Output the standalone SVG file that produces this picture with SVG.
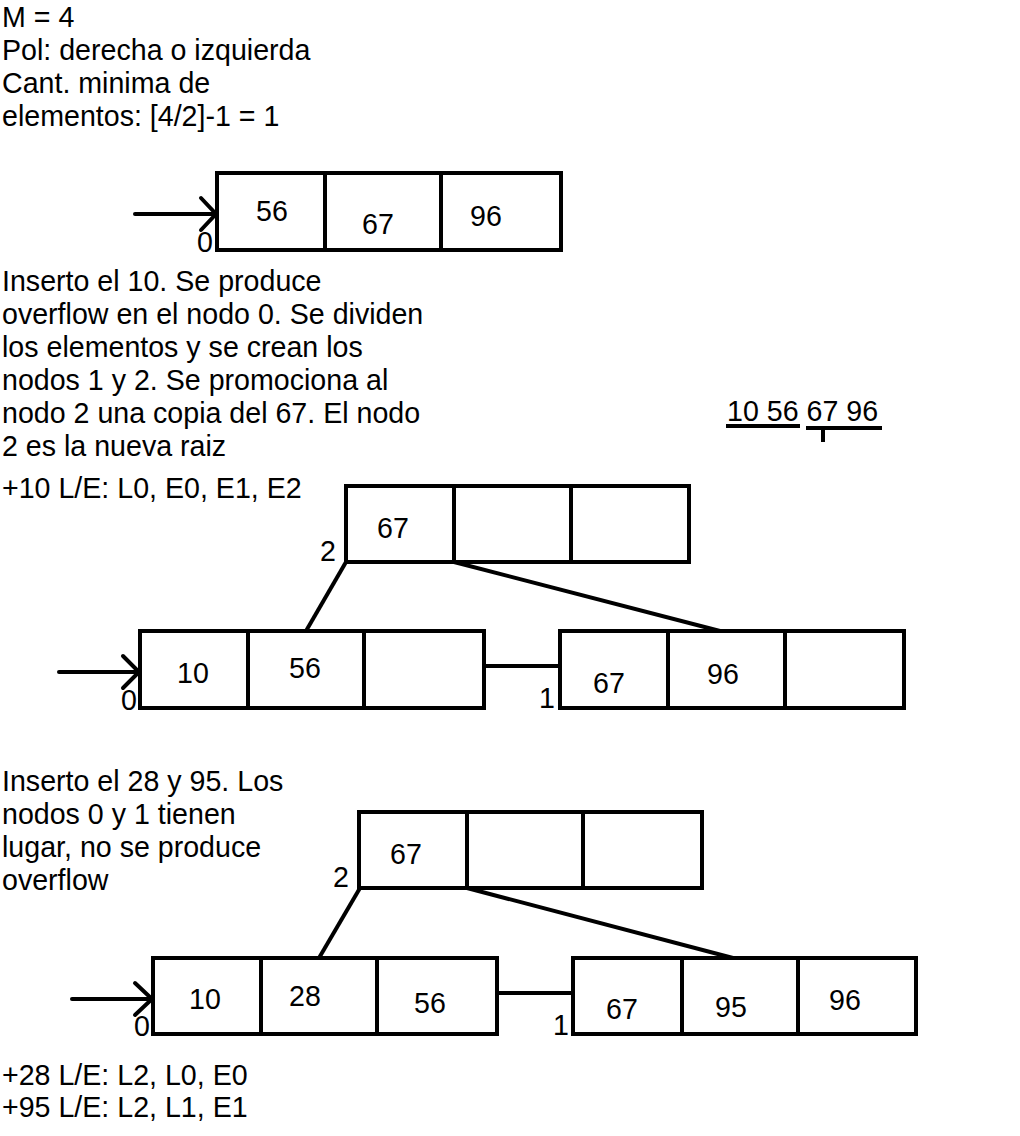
<svg xmlns="http://www.w3.org/2000/svg" width="1020" height="1136" viewBox="0 0 1020 1136">
<style>
text{font-family:"Liberation Sans",Arial,sans-serif;font-size:28.6px;fill:#000}
.box{fill:#fff;stroke:#000;stroke-width:4}
.ln{stroke:#000;stroke-width:4;fill:none;stroke-linecap:butt}
.arr{stroke:#000;stroke-width:4;fill:none;stroke-linecap:round;stroke-linejoin:miter}
</style>
<rect width="1020" height="1136" fill="#fff"/>
<g id="notes">
<text x="2" y="27">M = 4</text>
<text x="2" y="60">Pol: derecha o izquierda</text>
<text x="2" y="93">Cant. minima de</text>
<text x="2" y="126">elementos: [4/2]-1 = 1</text>
<text x="2" y="291">Inserto el 10. Se produce</text>
<text x="2" y="324">overflow en el nodo 0. Se dividen</text>
<text x="2" y="357">los elementos y se crean los</text>
<text x="2" y="390">nodos 1 y 2. Se promociona al</text>
<text x="2" y="423">nodo 2 una copia del 67. El nodo</text>
<text x="2" y="456">2 es la nueva raiz</text>
<text x="2" y="498">+10 L/E: L0, E0, E1, E2</text>
<text x="727" y="421">10 56 67 96</text>
<text x="2" y="791">Inserto el 28 y 95. Los</text>
<text x="2" y="824">nodos 0 y 1 tienen</text>
<text x="2" y="857">lugar, no se produce</text>
<text x="2" y="890">overflow</text>
<text x="2" y="1085">+28 L/E: L2, L0, E0</text>
<text x="2" y="1117">+95 L/E: L2, L1, E1</text>
</g>
<g id="connectors">
<line class="ln" x1="726" y1="426" x2="800" y2="426"/>
<line class="ln" x1="806" y1="428" x2="882" y2="428"/>
<line class="ln" x1="823" y1="428" x2="823" y2="442"/>
<line class="arr" x1="135" y1="214" x2="216" y2="214"/>
<polyline class="arr" points="201,198 216,214 201,230"/>
<line class="ln" x1="346" y1="562" x2="306" y2="631"/>
<line class="ln" x1="454" y1="562" x2="720" y2="631"/>
<line class="arr" x1="59" y1="672" x2="139" y2="672"/>
<polyline class="arr" points="123,656 139,672 123,688"/>
<line class="ln" x1="484" y1="666" x2="560" y2="666"/>
<line class="ln" x1="360" y1="888" x2="319" y2="958"/>
<line class="ln" x1="467" y1="888" x2="733" y2="958"/>
<line class="arr" x1="72" y1="999" x2="152" y2="999"/>
<polyline class="arr" points="135,983 152,999 135,1015"/>
<line class="ln" x1="497" y1="993" x2="573" y2="993"/>
</g>
<g id="node-initial">
<rect class="box" x="217" y="173" width="344" height="77"/>
<line class="ln" x1="325" y1="173" x2="325" y2="250"/>
<line class="ln" x1="441" y1="173" x2="441" y2="250"/>
<text x="256" y="221">56</text>
<text x="362" y="234">67</text>
<text x="470" y="226">96</text>
<text x="197" y="252">0</text>
</g>
<g id="node-2a">
<rect class="box" x="346" y="486" width="343" height="76"/>
<line class="ln" x1="454" y1="486" x2="454" y2="562"/>
<line class="ln" x1="571" y1="486" x2="571" y2="562"/>
<text x="377" y="538">67</text>
<text x="320" y="561">2</text>
</g>
<g id="node-0a">
<rect class="box" x="140" y="631" width="344" height="77"/>
<line class="ln" x1="248" y1="631" x2="248" y2="708"/>
<line class="ln" x1="364" y1="631" x2="364" y2="708"/>
<text x="177" y="683">10</text>
<text x="289" y="678">56</text>
<text x="121" y="710">0</text>
</g>
<g id="node-1a">
<rect class="box" x="560" y="631" width="344" height="77"/>
<line class="ln" x1="668" y1="631" x2="668" y2="708"/>
<line class="ln" x1="785" y1="631" x2="785" y2="708"/>
<text x="593" y="693">67</text>
<text x="707" y="684">96</text>
<text x="539" y="708">1</text>
</g>
<g id="node-2b">
<rect class="box" x="359" y="812" width="343" height="76"/>
<line class="ln" x1="467" y1="812" x2="467" y2="888"/>
<line class="ln" x1="583" y1="812" x2="583" y2="888"/>
<text x="390" y="864">67</text>
<text x="333" y="887">2</text>
</g>
<g id="node-0b">
<rect class="box" x="153" y="958" width="344" height="76"/>
<line class="ln" x1="261" y1="958" x2="261" y2="1034"/>
<line class="ln" x1="377" y1="958" x2="377" y2="1034"/>
<text x="189" y="1009">10</text>
<text x="289" y="1006">28</text>
<text x="414" y="1013">56</text>
<text x="134" y="1036">0</text>
</g>
<g id="node-1b">
<rect class="box" x="573" y="958" width="343" height="76"/>
<line class="ln" x1="682" y1="958" x2="682" y2="1034"/>
<line class="ln" x1="798" y1="958" x2="798" y2="1034"/>
<text x="606" y="1019">67</text>
<text x="715" y="1017">95</text>
<text x="829" y="1010">96</text>
<text x="553" y="1035">1</text>
</g>
</svg>
